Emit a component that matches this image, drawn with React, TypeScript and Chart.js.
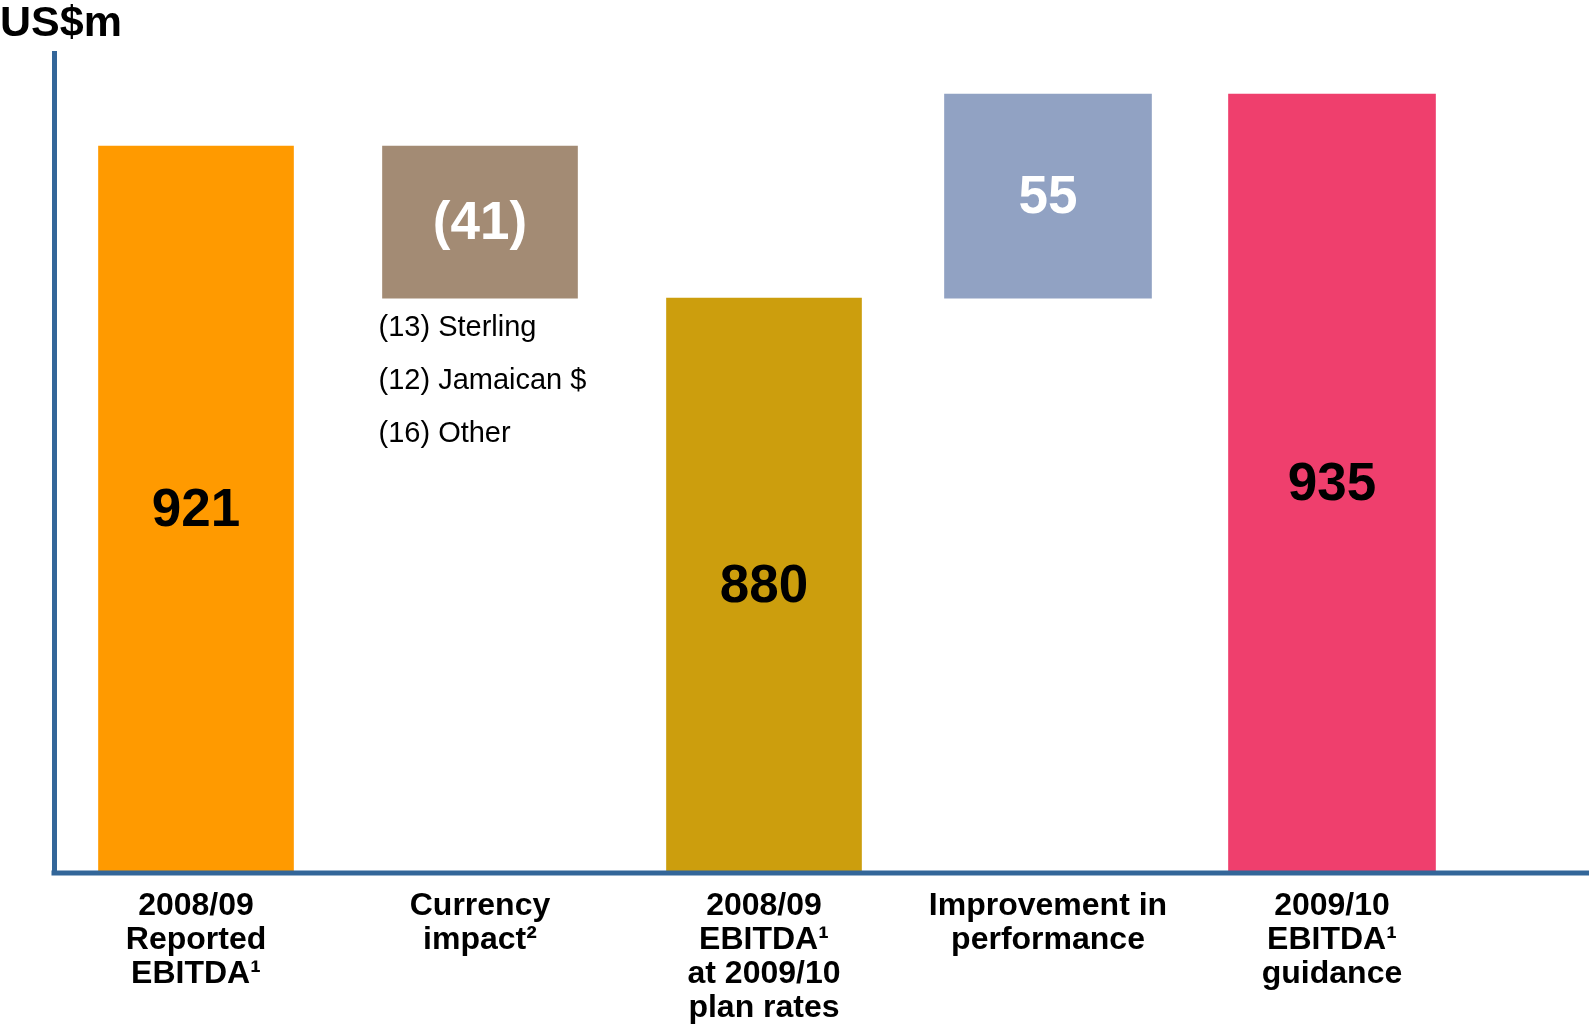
import React, { useEffect, useRef } from "react";
import { Chart, registerables } from "chart.js";

Chart.register(...registerables);

// ---- data ----
const categories: string[][] = [
  ["2008/09", "Reported", "EBITDA¹"],
  ["Currency", "impact²"],
  ["2008/09", "EBITDA¹", "at 2009/10", "plan rates"],
  ["Improvement in", "performance"],
  ["2009/10", "EBITDA¹", "guidance"],
];
const stepValues = [921, -41, 880, 55, 935];
const stepKinds = ["total", "change", "total", "change", "total"];
const barColors = ["#FF9A00", "#A38B74", "#CC9E0D", "#91A2C3", "#EF3F6D"];
const valueLabelColors = ["#000000", "#FFFFFF", "#000000", "#FFFFFF", "#000000"];
const currencyItems = [-13, -12, -16];
const currencyNames = ["Sterling", "Jamaican $", "Other"];
const currencyIndex = 1;
const yAxisMin = 725;
const yAxisMax = 946;

const FONT = "'Liberation Sans', Arial, Helvetica, sans-serif";
const AXIS_BLUE = "#336699";

const fmt = (v: number) => (v < 0 ? `(${-v})` : `${v}`);

function buildBars(): [number, number][] {
  let running = 0;
  return stepValues.map((v, i) => {
    if (stepKinds[i] === "total") {
      running = v;
      return [yAxisMin, v] as [number, number];
    }
    const start = running;
    running = running + v;
    return [Math.min(start, running), Math.max(start, running)] as [number, number];
  });
}

const labelsPlugin = {
  id: "waterfallLabels",
  afterDatasetsDraw(chart: any) {
    const ctx = chart.ctx;
    const area = chart.chartArea;
    // x axis line (extends to the canvas edge)
    ctx.save();
    ctx.strokeStyle = AXIS_BLUE;
    ctx.lineWidth = 5;
    ctx.beginPath();
    ctx.moveTo(area.left - 2.5, area.bottom);
    ctx.lineTo(chart.width, area.bottom);
    ctx.stroke();
    ctx.restore();

    chart.data.datasets.forEach((ds: any, di: number) => {
      const meta = chart.getDatasetMeta(di);
      meta.data.forEach((el: any, i: number) => {
        if (ds.data[i] == null) return;
        const top = Math.min(el.y, el.base);
        const bottom = Math.max(el.y, el.base);
        ctx.save();
        ctx.font = `bold 53px ${FONT}`;
        ctx.fillStyle = valueLabelColors[i];
        ctx.textAlign = "center";
        ctx.textBaseline = "middle";
        ctx.fillText(fmt(stepValues[i]), el.x, (top + bottom) / 2 + 2);
        ctx.restore();

        if (i === currencyIndex) {
          const left = el.x - el.width / 2;
          ctx.save();
          ctx.font = `29px ${FONT}`;
          ctx.fillStyle = "#000000";
          ctx.textAlign = "left";
          ctx.textBaseline = "alphabetic";
          currencyItems.forEach((v, k) => {
            ctx.fillText(`${fmt(v)} ${currencyNames[k]}`, left - 4, bottom + 38 + k * 53);
          });
          ctx.restore();
        }
      });
    });
  },
};

export default function App() {
  const ref = useRef<HTMLCanvasElement | null>(null);

  useEffect(() => {
    if (!ref.current) return;
    const bars = buildBars();
    const chart = new Chart(ref.current, {
      type: "bar",
      data: {
        labels: categories,
        datasets: [
          {
            data: bars.map((b, i) => (i < 3 ? b : null)) as any,
            backgroundColor: barColors,
            barThickness: 195,
            grouped: false,
          } as any,
          {
            data: bars.map((b, i) => (i >= 3 ? b : null)) as any,
            backgroundColor: barColors,
            barThickness: 207,
            grouped: false,
          } as any,
        ],
      },
      options: {
        animation: false,
        responsive: false,
        maintainAspectRatio: false,
        layout: { padding: { left: 0, right: 115, top: 0, bottom: 0 } },
        plugins: {
          legend: { display: false },
          tooltip: { enabled: false },
          title: {
            display: true,
            text: "US$m",
            align: "start",
            color: "#000000",
            font: { family: FONT, size: 43, weight: "bold", lineHeight: 1.1 },
            padding: { top: 0, bottom: 6 },
          },
        },
        scales: {
          x: {
            grid: { display: false, drawTicks: false },
            border: { display: false },
            ticks: {
              color: "#000000",
              font: { family: FONT, size: 32, weight: "bold", lineHeight: 34 / 32 },
              padding: 16,
              maxRotation: 0,
              autoSkip: false,
            },
            afterFit: (s: any) => {
              s.height = 157;
            },
          },
          y: {
            min: yAxisMin,
            max: yAxisMax,
            grid: { display: false, drawTicks: false },
            border: { display: true, color: AXIS_BLUE, width: 5 },
            ticks: { display: false },
            afterFit: (s: any) => {
              s.width = 54;
            },
          },
        },
      } as any,
      plugins: [labelsPlugin],
    });
    return () => chart.destroy();
  }, []);

  return (
    <div style={{ position: "absolute", left: 0, top: 0, width: 1589, height: 1030, background: "#ffffff" }}>
      <canvas ref={ref} width={1589} height={1030} />
    </div>
  );
}
